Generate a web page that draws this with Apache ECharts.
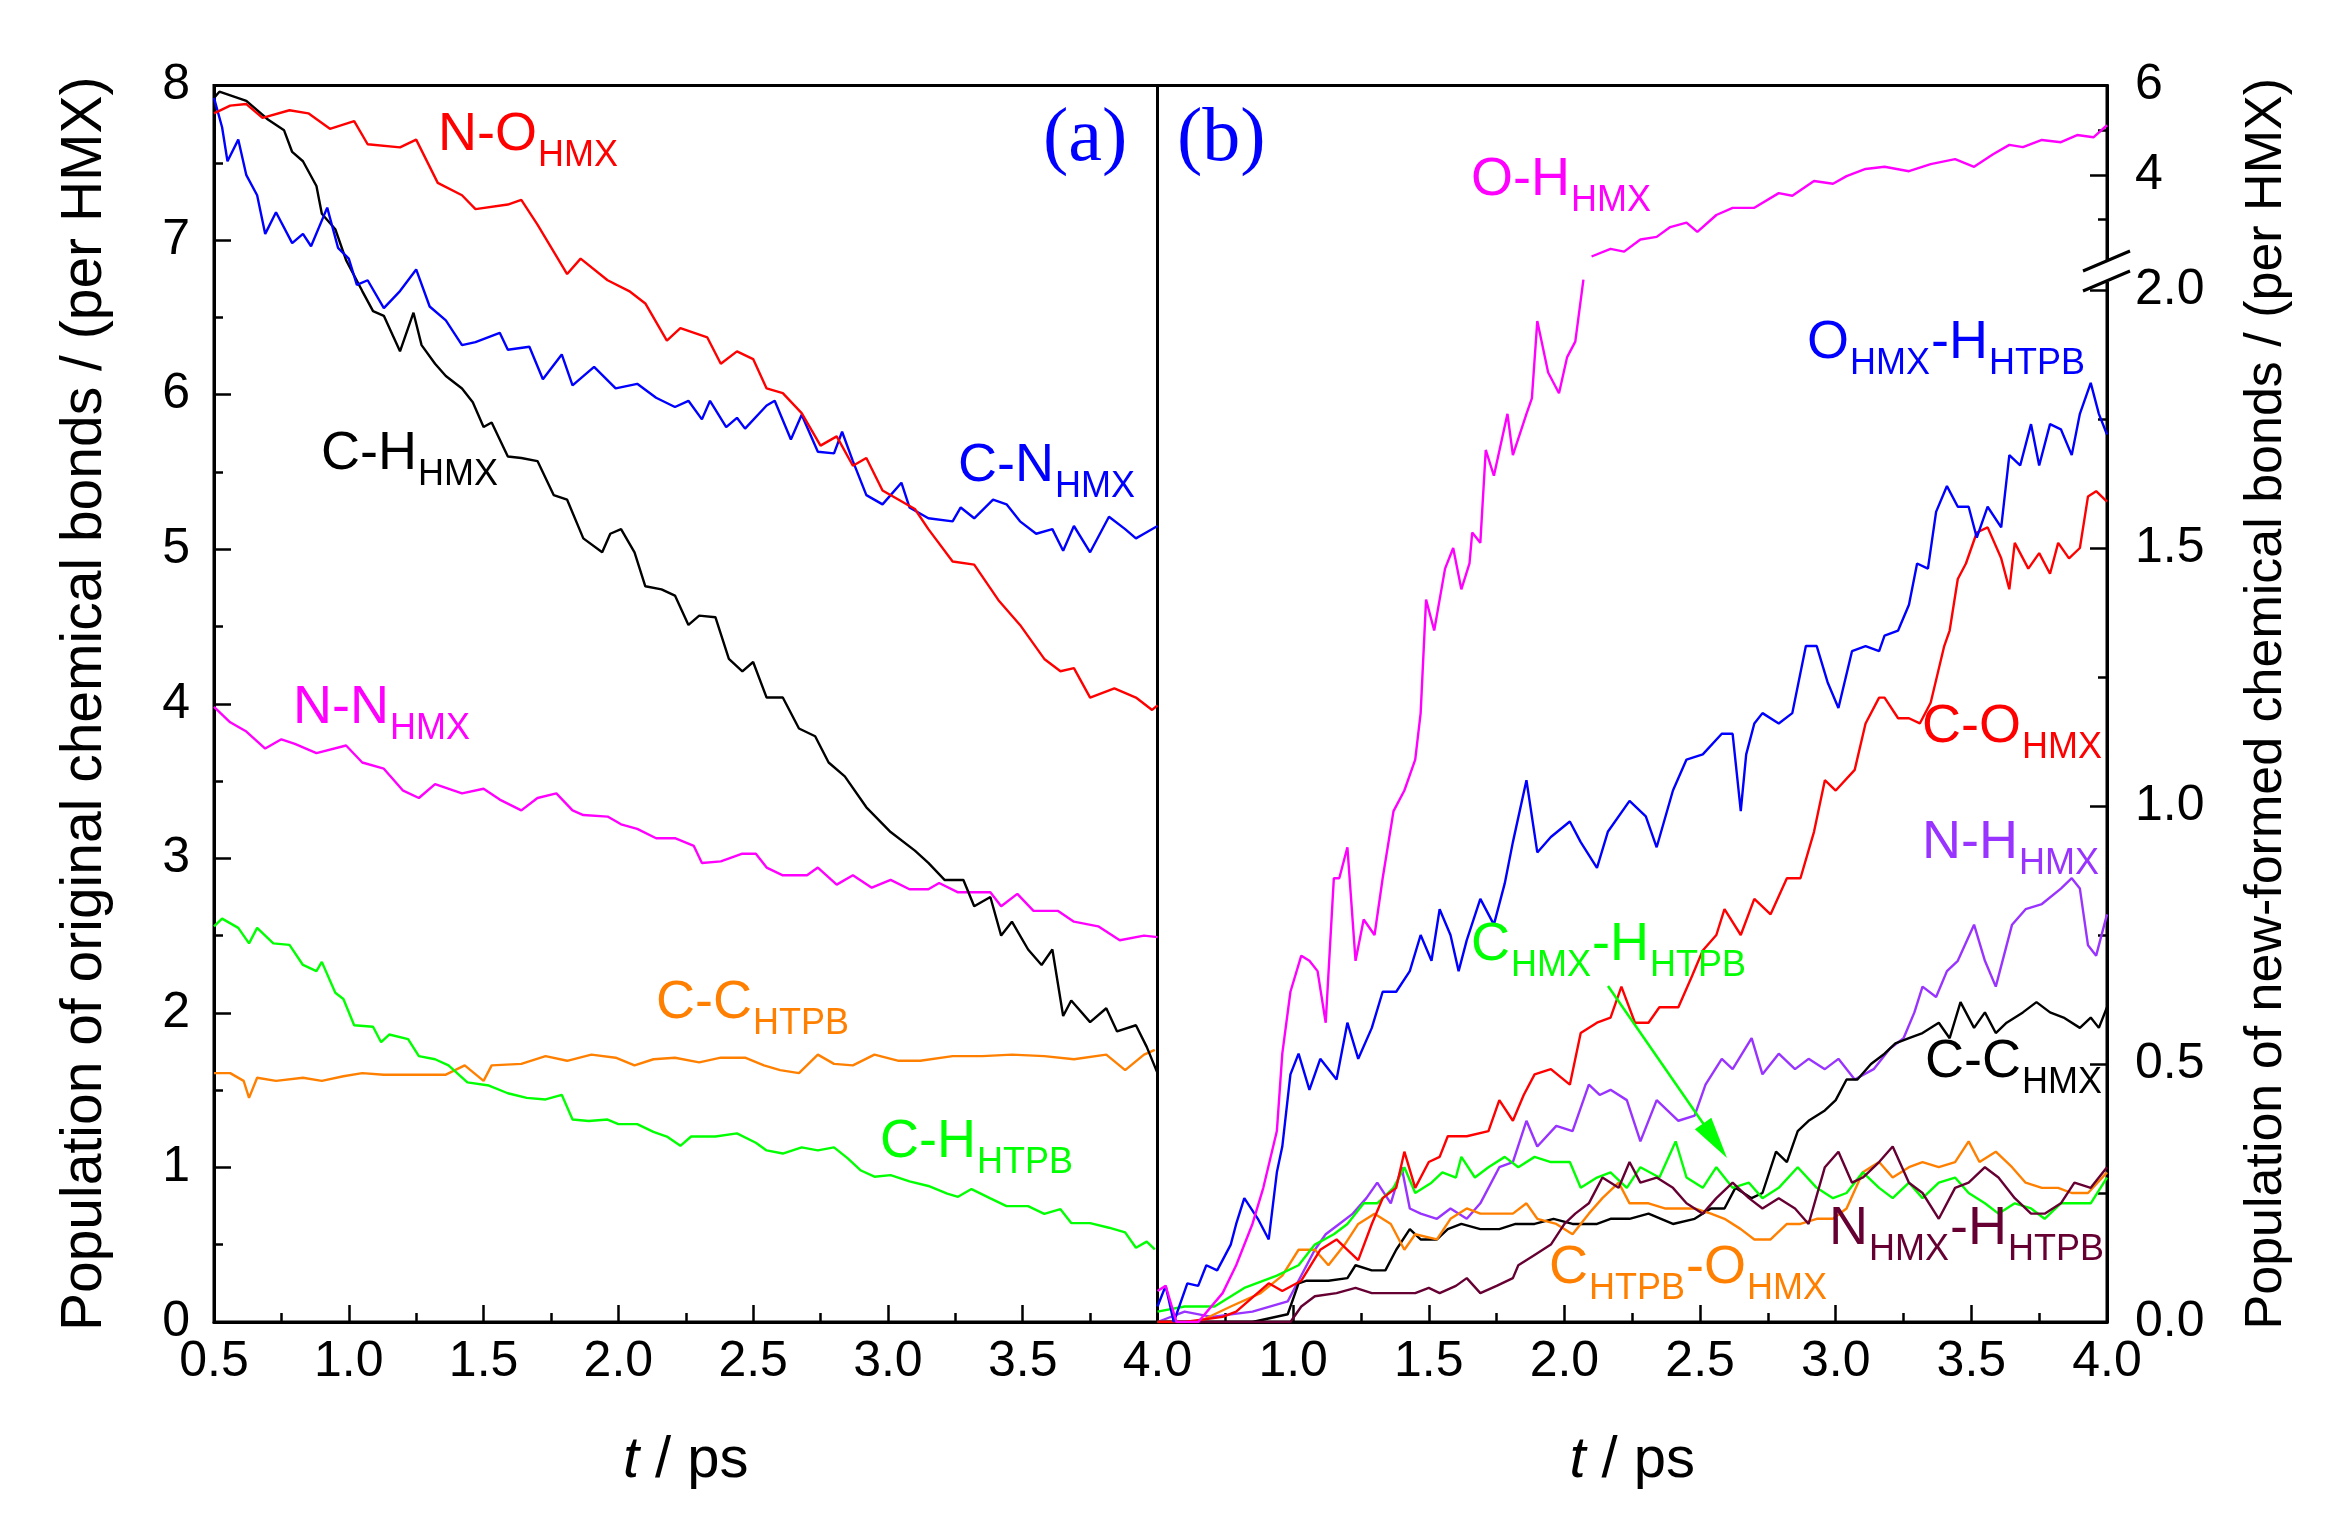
<!DOCTYPE html>
<html><head><meta charset="utf-8">
<script src="https://cdn.jsdelivr.net/npm/echarts@6/dist/echarts.min.js"></script>
<style>html,body{margin:0;padding:0;background:#fff}#c{width:2348px;height:1522px}</style>
</head><body><div id="c"></div>
<script>
// ---------- Panel (a): original bonds ----------
const NO_t = [0.5,0.56,0.62,0.68,0.78,0.85,0.93,1.02,1.07,1.19,1.25,1.33,1.42,1.47,1.59,1.64,1.70,1.81,1.86,1.96,2.04,2.10,2.18,2.23,2.33,2.38,2.44,2.50,2.55,2.61,2.68,2.75,2.81,2.87,2.92,2.98,3.04,3.10,3.15,3.24,3.32,3.41,3.49,3.58,3.64,3.69,3.75,3.84,3.92,3.98,4.0];
const NO_v = [7.82,7.87,7.88,7.79,7.84,7.82,7.72,7.77,7.62,7.60,7.65,7.37,7.29,7.20,7.23,7.26,7.10,6.78,6.88,6.74,6.67,6.59,6.35,6.43,6.37,6.20,6.28,6.23,6.04,6.01,5.88,5.67,5.73,5.54,5.59,5.38,5.32,5.26,5.13,4.92,4.90,4.67,4.51,4.29,4.21,4.23,4.04,4.10,4.04,3.96,3.99];
const CN_t = [0.5,0.53,0.55,0.59,0.62,0.66,0.69,0.73,0.79,0.83,0.86,0.92,0.96,1.00,1.03,1.07,1.13,1.19,1.25,1.30,1.36,1.42,1.47,1.56,1.59,1.67,1.72,1.79,1.83,1.91,1.99,2.07,2.14,2.21,2.26,2.31,2.34,2.40,2.44,2.47,2.55,2.58,2.64,2.68,2.74,2.80,2.83,2.87,2.92,2.98,3.05,3.08,3.15,3.24,3.27,3.32,3.39,3.44,3.49,3.55,3.61,3.65,3.69,3.75,3.82,3.88,3.92,3.95,4.0];
const CN_v = [7.92,7.73,7.51,7.65,7.42,7.29,7.04,7.18,6.98,7.04,6.96,7.21,6.95,6.88,6.71,6.74,6.56,6.67,6.81,6.57,6.48,6.32,6.34,6.40,6.29,6.31,6.10,6.26,6.06,6.18,6.04,6.07,5.98,5.92,5.96,5.84,5.96,5.79,5.85,5.78,5.93,5.96,5.71,5.87,5.63,5.62,5.76,5.57,5.35,5.29,5.43,5.27,5.20,5.18,5.27,5.20,5.32,5.29,5.18,5.10,5.13,4.99,5.15,4.98,5.21,5.13,5.07,5.10,5.15];
const CHhmx_t = [0.5,0.52,0.62,0.70,0.76,0.79,0.83,0.88,0.90,0.95,0.99,1.05,1.09,1.13,1.19,1.24,1.27,1.32,1.36,1.42,1.46,1.50,1.53,1.59,1.64,1.70,1.76,1.81,1.87,1.94,1.97,2.01,2.06,2.10,2.16,2.21,2.26,2.30,2.36,2.41,2.46,2.50,2.55,2.61,2.67,2.73,2.78,2.84,2.92,3.01,3.10,3.15,3.21,3.28,3.32,3.38,3.42,3.46,3.52,3.57,3.61,3.65,3.68,3.75,3.81,3.85,3.92,3.96,4.0];
const CHhmx_v = [7.92,7.96,7.90,7.78,7.71,7.57,7.51,7.35,7.17,7.07,6.87,6.67,6.54,6.51,6.28,6.53,6.32,6.20,6.12,6.04,5.95,5.79,5.82,5.60,5.59,5.57,5.35,5.32,5.07,4.98,5.10,5.13,4.98,4.76,4.74,4.70,4.51,4.57,4.56,4.29,4.21,4.27,4.04,4.04,3.84,3.79,3.62,3.53,3.33,3.17,3.05,2.97,2.86,2.86,2.69,2.75,2.50,2.59,2.41,2.31,2.41,1.98,2.08,1.94,2.03,1.88,1.92,1.78,1.61];
const NN_t = [0.5,0.56,0.62,0.69,0.75,0.80,0.88,0.99,1.05,1.13,1.20,1.26,1.32,1.42,1.50,1.56,1.64,1.70,1.77,1.83,1.87,1.96,2.01,2.07,2.14,2.21,2.28,2.31,2.38,2.46,2.51,2.55,2.61,2.70,2.74,2.81,2.87,2.94,3.01,3.08,3.15,3.19,3.26,3.38,3.42,3.48,3.54,3.63,3.69,3.78,3.86,3.95,4.0];
const NN_v = [3.98,3.88,3.82,3.71,3.77,3.74,3.68,3.73,3.62,3.58,3.44,3.39,3.48,3.42,3.45,3.38,3.31,3.39,3.42,3.31,3.28,3.27,3.22,3.19,3.13,3.13,3.08,2.97,2.98,3.03,3.03,2.94,2.89,2.89,2.94,2.83,2.89,2.81,2.86,2.80,2.80,2.84,2.78,2.78,2.69,2.77,2.66,2.66,2.59,2.56,2.47,2.50,2.49];
const CHhtpb_t = [0.5,0.53,0.59,0.63,0.66,0.72,0.78,0.83,0.88,0.90,0.95,0.98,1.02,1.09,1.12,1.15,1.22,1.26,1.32,1.37,1.44,1.52,1.59,1.66,1.73,1.79,1.83,1.89,1.96,2.00,2.07,2.13,2.18,2.23,2.27,2.36,2.44,2.51,2.55,2.61,2.68,2.74,2.80,2.85,2.90,2.95,3.01,3.08,3.15,3.22,3.26,3.31,3.38,3.44,3.52,3.58,3.64,3.68,3.75,3.82,3.88,3.92,3.96,3.99];
const CHhtpb_v = [2.56,2.61,2.55,2.45,2.55,2.45,2.44,2.31,2.27,2.33,2.13,2.09,1.92,1.91,1.81,1.86,1.83,1.72,1.70,1.66,1.55,1.53,1.48,1.45,1.44,1.47,1.31,1.30,1.31,1.28,1.28,1.23,1.20,1.14,1.20,1.20,1.22,1.16,1.11,1.09,1.13,1.11,1.13,1.06,0.98,0.94,0.95,0.91,0.88,0.83,0.81,0.86,0.80,0.75,0.75,0.70,0.73,0.64,0.64,0.61,0.58,0.48,0.52,0.47];
const CChtpb_t = [0.5,0.56,0.61,0.63,0.66,0.73,0.83,0.90,0.98,1.05,1.13,1.25,1.36,1.43,1.50,1.53,1.64,1.73,1.81,1.90,1.99,2.06,2.13,2.21,2.30,2.38,2.47,2.54,2.60,2.67,2.74,2.80,2.87,2.95,3.04,3.12,3.24,3.35,3.46,3.58,3.69,3.81,3.88,3.95,3.99];
const CChtpb_v = [1.61,1.61,1.56,1.45,1.58,1.56,1.58,1.56,1.59,1.61,1.60,1.60,1.60,1.66,1.56,1.66,1.67,1.72,1.69,1.73,1.71,1.66,1.70,1.71,1.68,1.71,1.71,1.66,1.63,1.61,1.73,1.67,1.66,1.73,1.69,1.69,1.72,1.72,1.73,1.72,1.70,1.73,1.63,1.73,1.76];

// ---------- Panel (b): new-formed bonds ----------
const OH_t = [0.5,0.53,0.57,0.65,0.74,0.79,0.85,0.89,0.94,0.96,0.99,1.03,1.06,1.09,1.12,1.15,1.17,1.20,1.23,1.26,1.30,1.33,1.37,1.41,1.45,1.47,1.49,1.52,1.56,1.59,1.62,1.65,1.66,1.69,1.71,1.74,1.79,1.81,1.86,1.88,1.90,1.94,1.98,2.01,2.04,2.07,2.10,2.17,2.22,2.28,2.34,2.39,2.45,2.49,2.56,2.62,2.70,2.79,2.84,2.92,2.99,3.04,3.11,3.18,3.27,3.35,3.44,3.51,3.58,3.64,3.69,3.76,3.83,3.89,3.95,4.0];
const OH_v = [0.06,0.07,0.0,0.0,0.056,0.11,0.19,0.26,0.37,0.52,0.64,0.71,0.70,0.68,0.58,0.86,0.86,0.92,0.70,0.78,0.75,0.86,0.99,1.03,1.09,1.18,1.40,1.34,1.46,1.50,1.42,1.47,1.53,1.51,1.69,1.64,1.76,1.68,1.76,1.79,1.94,1.84,1.80,1.87,1.90,2.02,2.17,2.34,2.28,2.55,2.61,2.83,2.93,2.72,3.10,3.26,3.26,3.59,3.53,3.86,3.80,3.97,4.13,4.18,4.08,4.24,4.35,4.18,4.46,4.67,4.62,4.78,4.73,4.89,4.84,5.11];
const OHH_t = [0.5,0.53,0.56,0.61,0.65,0.68,0.72,0.77,0.79,0.82,0.87,0.91,0.94,0.96,0.99,1.02,1.06,1.10,1.16,1.20,1.24,1.29,1.33,1.38,1.43,1.47,1.51,1.54,1.58,1.61,1.64,1.69,1.74,1.78,1.81,1.86,1.90,1.95,2.02,2.06,2.12,2.16,2.24,2.30,2.34,2.40,2.45,2.51,2.58,2.62,2.65,2.67,2.70,2.73,2.79,2.84,2.89,2.93,2.97,3.01,3.06,3.11,3.16,3.18,3.23,3.27,3.30,3.34,3.37,3.41,3.45,3.49,3.52,3.56,3.61,3.64,3.68,3.72,3.75,3.79,3.83,3.87,3.90,3.94,3.97,4.0];
const OHH_v = [0.03,0.07,0.0,0.075,0.07,0.11,0.10,0.15,0.19,0.24,0.20,0.16,0.29,0.34,0.48,0.52,0.45,0.51,0.47,0.58,0.51,0.57,0.64,0.64,0.68,0.75,0.70,0.80,0.75,0.68,0.74,0.82,0.77,0.85,0.93,1.05,0.91,0.94,0.97,0.93,0.88,0.95,1.01,0.98,0.92,1.03,1.09,1.10,1.14,1.14,0.99,1.10,1.16,1.18,1.16,1.18,1.31,1.31,1.24,1.19,1.30,1.31,1.30,1.33,1.34,1.39,1.47,1.46,1.57,1.62,1.58,1.58,1.52,1.58,1.54,1.68,1.66,1.74,1.66,1.74,1.73,1.68,1.76,1.82,1.76,1.72];
const CO_t = [0.5,0.6,0.74,0.79,0.91,0.96,1.03,1.10,1.16,1.20,1.24,1.29,1.33,1.38,1.41,1.45,1.50,1.54,1.57,1.64,1.72,1.76,1.81,1.85,1.89,1.95,2.02,2.06,2.12,2.17,2.21,2.26,2.31,2.35,2.42,2.47,2.51,2.56,2.59,2.65,2.70,2.76,2.82,2.87,2.92,2.96,3.00,3.07,3.11,3.16,3.18,3.23,3.27,3.31,3.35,3.40,3.42,3.45,3.48,3.52,3.56,3.61,3.64,3.66,3.71,3.75,3.79,3.82,3.86,3.90,3.93,3.96,4.0];
const CO_v = [0.0,0.0,0.01,0.02,0.075,0.06,0.08,0.14,0.16,0.14,0.12,0.19,0.24,0.26,0.33,0.26,0.31,0.32,0.36,0.36,0.37,0.43,0.39,0.44,0.48,0.49,0.46,0.56,0.58,0.59,0.65,0.58,0.58,0.61,0.61,0.67,0.72,0.75,0.80,0.75,0.82,0.79,0.86,0.86,0.95,1.05,1.03,1.07,1.16,1.21,1.21,1.17,1.17,1.16,1.20,1.31,1.34,1.44,1.47,1.53,1.54,1.48,1.42,1.51,1.46,1.49,1.45,1.51,1.48,1.50,1.60,1.61,1.59];
const NH_t = [0.5,0.6,0.7,0.85,0.98,1.03,1.08,1.12,1.17,1.22,1.27,1.31,1.36,1.40,1.43,1.47,1.53,1.58,1.64,1.69,1.76,1.81,1.86,1.90,1.97,2.03,2.09,2.13,2.17,2.23,2.28,2.34,2.42,2.48,2.52,2.58,2.62,2.69,2.73,2.79,2.85,2.90,2.96,3.01,3.07,3.14,3.20,3.25,3.29,3.32,3.37,3.41,3.45,3.51,3.55,3.59,3.65,3.70,3.76,3.83,3.87,3.90,3.93,3.96,4.0];
const NH_v = [0.0,0.02,0.01,0.02,0.04,0.09,0.14,0.17,0.19,0.21,0.24,0.27,0.23,0.30,0.22,0.21,0.20,0.22,0.20,0.23,0.30,0.31,0.39,0.34,0.38,0.37,0.46,0.44,0.45,0.43,0.35,0.43,0.39,0.40,0.46,0.51,0.49,0.55,0.48,0.52,0.49,0.51,0.49,0.51,0.47,0.49,0.53,0.55,0.60,0.65,0.63,0.68,0.70,0.77,0.70,0.65,0.77,0.80,0.81,0.84,0.86,0.84,0.73,0.71,0.79];
const CC_t = [0.5,0.7,0.85,0.98,1.02,1.05,1.13,1.20,1.23,1.29,1.34,1.38,1.43,1.47,1.53,1.57,1.62,1.69,1.76,1.82,1.89,1.96,2.03,2.12,2.17,2.24,2.31,2.40,2.48,2.54,2.59,2.63,2.69,2.73,2.78,2.82,2.86,2.90,2.96,3.00,3.04,3.08,3.13,3.18,3.22,3.27,3.32,3.38,3.42,3.46,3.51,3.55,3.59,3.63,3.69,3.74,3.79,3.84,3.90,3.94,3.97,4.0];
const CC_v = [0.0,0.0,0.0,0.015,0.075,0.08,0.08,0.085,0.11,0.10,0.10,0.14,0.18,0.16,0.16,0.18,0.19,0.18,0.18,0.19,0.19,0.20,0.19,0.19,0.20,0.20,0.21,0.19,0.20,0.22,0.22,0.26,0.24,0.25,0.33,0.31,0.37,0.39,0.41,0.43,0.47,0.47,0.50,0.52,0.54,0.55,0.56,0.58,0.55,0.62,0.57,0.60,0.56,0.58,0.60,0.62,0.60,0.59,0.57,0.59,0.57,0.61];
const CH2_t = [0.5,0.6,0.71,0.82,0.94,1.02,1.08,1.15,1.20,1.26,1.31,1.37,1.41,1.45,1.51,1.55,1.60,1.62,1.67,1.72,1.78,1.83,1.89,1.95,2.02,2.06,2.12,2.17,2.23,2.28,2.35,2.41,2.45,2.51,2.56,2.62,2.68,2.73,2.79,2.86,2.93,2.99,3.04,3.10,3.16,3.21,3.27,3.32,3.38,3.44,3.49,3.55,3.60,3.66,3.72,3.77,3.83,3.88,3.94,4.0];
const CH2_v = [0.02,0.03,0.03,0.066,0.09,0.11,0.15,0.17,0.19,0.23,0.23,0.26,0.30,0.25,0.27,0.29,0.28,0.32,0.28,0.30,0.32,0.30,0.32,0.31,0.31,0.26,0.28,0.29,0.26,0.30,0.28,0.35,0.28,0.26,0.30,0.26,0.27,0.24,0.26,0.30,0.26,0.24,0.25,0.29,0.26,0.24,0.27,0.24,0.27,0.28,0.25,0.23,0.21,0.23,0.22,0.20,0.23,0.23,0.23,0.28];
const NHH_t = [0.5,0.8,0.99,1.03,1.08,1.16,1.23,1.29,1.38,1.45,1.50,1.54,1.60,1.64,1.69,1.75,1.81,1.83,1.89,1.95,2.00,2.04,2.09,2.14,2.20,2.24,2.28,2.34,2.40,2.45,2.51,2.56,2.62,2.68,2.73,2.79,2.85,2.90,2.96,3.01,3.06,3.10,3.16,3.21,3.27,3.32,3.38,3.44,3.49,3.55,3.60,3.66,3.72,3.77,3.83,3.88,3.94,4.0];
const NHH_v = [0.0,0.0,0.0,0.03,0.05,0.056,0.066,0.056,0.056,0.056,0.066,0.056,0.07,0.085,0.056,0.07,0.085,0.11,0.13,0.15,0.19,0.21,0.23,0.28,0.26,0.31,0.27,0.28,0.26,0.23,0.21,0.24,0.27,0.24,0.22,0.24,0.22,0.19,0.30,0.33,0.27,0.28,0.31,0.34,0.27,0.25,0.20,0.26,0.27,0.30,0.28,0.24,0.21,0.21,0.23,0.27,0.26,0.30];
const CHO_t = [0.5,0.65,0.77,0.88,0.96,1.02,1.08,1.13,1.19,1.24,1.30,1.36,1.41,1.45,1.53,1.58,1.64,1.69,1.75,1.81,1.86,1.90,1.97,2.03,2.09,2.14,2.20,2.24,2.31,2.37,2.42,2.48,2.54,2.59,2.65,2.70,2.76,2.82,2.87,2.93,2.99,3.04,3.10,3.16,3.21,3.27,3.32,3.38,3.44,3.49,3.53,3.59,3.65,3.70,3.76,3.82,3.87,3.93,4.0];
const CHO_v = [0.0,0.0,0.03,0.056,0.09,0.14,0.14,0.11,0.15,0.19,0.21,0.19,0.14,0.17,0.16,0.20,0.22,0.21,0.21,0.21,0.23,0.20,0.19,0.17,0.21,0.24,0.27,0.23,0.23,0.22,0.22,0.22,0.21,0.20,0.18,0.16,0.16,0.19,0.19,0.20,0.20,0.22,0.29,0.31,0.28,0.30,0.31,0.30,0.31,0.35,0.31,0.33,0.30,0.27,0.26,0.26,0.25,0.25,0.29];

// ---------- Axis ticks ----------
const X_TICKS_MIN = 0.5, X_TICKS_MAX = 4.0, X_STEP = 0.5;
const LEFT_Y_MIN = 0, LEFT_Y_MAX = 8;
const RIGHT_TICKS = [0, 0.5, 1.0, 1.5, 2.0, 4, 6];
const RIGHT_TICK_TEXT = ['0.0', '0.5', '1.0', '1.5', '2.0', '4', '6'];
const RIGHT_MINOR = [0.25, 0.75, 1.25, 1.75, 3, 5];

// ---------- Layout ----------
const FONT = '"Liberation Sans", Arial, sans-serif';
const GT = 85.5, GH = 1236.5;
const G0L = 214, G0W = 943.5, G1L = 1157.5, G1W = 949.5;
// broken right axis: display units = px from bottom of grid
const LOW_PER = 516, UP_PER = 44.65, BREAK_AT = 2.1;
const UP_BASE = GH - 4 * UP_PER;   // position of value 2 on the upper scale
function disp(v) { return v <= BREAK_AT ? v * LOW_PER : UP_BASE + (v - 2) * UP_PER; }

function pairs(ts, vs, f) {
  const n = Math.min(ts.length, vs.length), out = [];
  for (let i = 0; i < n; i++) {
    if (f && i > 0 && (vs[i - 1] <= BREAK_AT) !== (vs[i] <= BREAK_AT)) out.push([(ts[i - 1] + ts[i]) / 2, '-']);
    out.push([ts[i], f ? f(vs[i]) : vs[i]]);
  }
  return out;
}
function lineSeries(name, ts, vs, color, panel) {
  return {
    name, type: 'line', xAxisIndex: panel, yAxisIndex: panel,
    data: pairs(ts, vs, panel === 1 ? disp : null),
    showSymbol: false, symbol: 'none', smooth: false, connectNulls: false,
    lineStyle: { color, width: 2.4 }, itemStyle: { color },
    z: 3, silent: true
  };
}

const tickStyle = { color: '#000', width: 2.5 };
function xAxisCfg(grid, hideMin) {
  return {
    type: 'value', gridIndex: grid, min: X_TICKS_MIN, max: X_TICKS_MAX, interval: X_STEP,
    axisLine: { show: true, onZero: false, lineStyle: { color: '#000', width: 3 } },
    axisTick: { show: true, inside: true, length: 17, lineStyle: tickStyle },
    minorTick: { show: true, splitNumber: 2, length: 9, lineStyle: tickStyle },
    splitLine: { show: false }, minorSplitLine: { show: false },
    axisLabel: {
      fontSize: 50, fontFamily: FONT, color: '#000', margin: 15,
      formatter: v => (hideMin && Math.abs(v - X_TICKS_MIN) < 1e-6) ? '' : v.toFixed(1)
    },
    name: '{i|t} / ps', nameLocation: 'middle', nameGap: 110,
    nameTextStyle: { fontSize: 58, fontFamily: FONT, color: '#000',
      rich: { i: { fontStyle: 'italic', fontSize: 58, fontFamily: FONT, color: '#000' } } }
  };
}
function nearestLabel(v) {
  let best = 0, bd = 1e9;
  RIGHT_TICKS.forEach((t, i) => { const d = Math.abs(disp(t) - v); if (d < bd) { bd = d; best = i; } });
  return RIGHT_TICK_TEXT[best];
}

const option = {
  backgroundColor: '#fff',
  animation: false,
  grid: [
    { left: G0L, top: GT, width: G0W, height: GH, show: true, borderColor: '#000', borderWidth: 3, backgroundColor: 'transparent' },
    { left: G1L, top: GT, width: G1W, height: GH, show: true, borderColor: '#000', borderWidth: 3, backgroundColor: 'transparent' }
  ],
  xAxis: [xAxisCfg(0, false), xAxisCfg(1, true)],
  yAxis: [
    {
      type: 'value', gridIndex: 0, min: LEFT_Y_MIN, max: LEFT_Y_MAX, interval: 1,
      axisLine: { show: true, lineStyle: { color: '#000', width: 3 } },
      axisTick: { show: true, inside: true, length: 17, lineStyle: tickStyle },
      minorTick: { show: true, splitNumber: 2, length: 9, lineStyle: tickStyle },
      splitLine: { show: false }, minorSplitLine: { show: false },
      axisLabel: { fontSize: 50, fontFamily: FONT, color: '#000', margin: 24 },
      name: 'Population of original chemical bonds / (per HMX)',
      nameLocation: 'middle', nameGap: 100, nameRotate: 90,
      nameTextStyle: { fontSize: 57, fontFamily: FONT, color: '#000' }
    },
    {
      type: 'value', gridIndex: 1, position: 'right', min: 0, max: GH,
      axisLine: { show: true, lineStyle: { color: '#000', width: 3 } },
      axisTick: { show: true, inside: true, length: 17, lineStyle: tickStyle,
        customValues: RIGHT_TICKS.map(disp) },
      axisLabel: { fontSize: 50, fontFamily: FONT, color: '#000', margin: 28,
        customValues: RIGHT_TICKS.map(disp), formatter: v => nearestLabel(v) },
      splitLine: { show: false },
      name: 'Population of new-formed chemical bonds / (per HMX)',
      nameLocation: 'middle', nameGap: 134, nameRotate: 90,
      nameTextStyle: { fontSize: 52, fontFamily: FONT, color: '#000' }
    },
    {
      type: 'value', gridIndex: 1, position: 'right', min: 0, max: GH,
      axisLine: { show: false },
      axisTick: { show: true, inside: true, length: 9, lineStyle: tickStyle,
        customValues: RIGHT_MINOR.map(disp) },
      axisLabel: { show: false, customValues: RIGHT_MINOR.map(disp) },
      splitLine: { show: false }
    }
  ],
  series: [
    lineSeries('C-C HTPB', CChtpb_t, CChtpb_v, '#FF8000', 0),
    lineSeries('C-H HTPB', CHhtpb_t, CHhtpb_v, '#00FF00', 0),
    lineSeries('N-N HMX', NN_t, NN_v, '#FF00FF', 0),
    lineSeries('C-H HMX', CHhmx_t, CHhmx_v, '#000000', 0),
    lineSeries('C-N HMX', CN_t, CN_v, '#0000FF', 0),
    lineSeries('N-O HMX', NO_t, NO_v, '#FF0000', 0),
    lineSeries('N-H HMX', NH_t, NH_v, '#9933FF', 1),
    lineSeries('C-C HMX', CC_t, CC_v, '#000000', 1),
    lineSeries('C_HTPB-O_HMX', CHO_t, CHO_v, '#FF8000', 1),
    lineSeries('C_HMX-H_HTPB', CH2_t, CH2_v, '#00FF00', 1),
    lineSeries('N_HMX-H_HTPB', NHH_t, NHH_v, '#660033', 1),
    lineSeries('C-O HMX', CO_t, CO_v, '#FF0000', 1),
    lineSeries('O_HMX-H_HTPB', OHH_t, OHH_v, '#0000FF', 1),
    lineSeries('O-H HMX', OH_t, OH_v, '#FF00FF', 1)
  ]
};

// ---------- annotations (series labels with subscripts) ----------
const LABELS = [
  { x: 438, y: 154, c: '#FF0000', p: [['N-O', 0], ['HMX', 1]] },
  { x: 958, y: 485, c: '#0000FF', p: [['C-N', 0], ['HMX', 1]] },
  { x: 321, y: 473, c: '#000000', p: [['C-H', 0], ['HMX', 1]] },
  { x: 293, y: 727, c: '#FF00FF', p: [['N-N', 0], ['HMX', 1]] },
  { x: 656, y: 1022, c: '#FF8000', p: [['C-C', 0], ['HTPB', 1]] },
  { x: 880, y: 1161, c: '#00FF00', p: [['C-H', 0], ['HTPB', 1]] },
  { x: 1471, y: 199, c: '#FF00FF', p: [['O-H', 0], ['HMX', 1]] },
  { x: 1807, y: 362, c: '#0000FF', p: [['O', 0], ['HMX', 1], ['-H', 0], ['HTPB', 1]] },
  { x: 1922, y: 746, c: '#FF0000', p: [['C-O', 0], ['HMX', 1]] },
  { x: 1922, y: 862, c: '#9933FF', p: [['N-H', 0], ['HMX', 1]] },
  { x: 1471, y: 964, c: '#00FF00', p: [['C', 0], ['HMX', 1], ['-H', 0], ['HTPB', 1]] },
  { x: 1925, y: 1081, c: '#000000', p: [['C-C', 0], ['HMX', 1]] },
  { x: 1829, y: 1248, c: '#660033', p: [['N', 0], ['HMX', 1], ['-H', 0], ['HTPB', 1]] },
  { x: 1549, y: 1287, c: '#FF8000', p: [['C', 0], ['HTPB', 1], ['-O', 0], ['HMX', 1]] }
];
const MAIN_FS = 54, SUB_FS = 36, SUB_DROP = 15, MID_K = 0.35;
const mctx = document.createElement('canvas').getContext('2d');
function textW(t, fs) { mctx.font = fs + 'px ' + FONT; return mctx.measureText(t).width; }
const graphics = [];
LABELS.forEach(l => {
  let cx = l.x;
  l.p.forEach(([t, sub]) => {
    const fs = sub ? SUB_FS : MAIN_FS;
    const base = l.y + (sub ? SUB_DROP : 0);
    graphics.push({ type: 'text', x: cx, y: base - MID_K * fs, z: 10, silent: true,
      style: { text: t, fill: l.c, font: fs + 'px ' + FONT, align: 'left', verticalAlign: 'middle' } });
    cx += textW(t, fs) + 1;
  });
});
// panel tags
graphics.push({ type: 'text', x: 1043, y: 140, z: 10, style: { text: '(a)', fill: '#0000FF',
  font: '76px "Liberation Serif", "Times New Roman", serif', align: 'left', verticalAlign: 'middle' } });
graphics.push({ type: 'text', x: 1177, y: 140, z: 10, style: { text: '(b)', fill: '#0000FF',
  font: '76px "Liberation Serif", "Times New Roman", serif', align: 'left', verticalAlign: 'middle' } });
// axis break marks on the right axis
graphics.push({ type: 'rect', z: 20, shape: { x: 2097, y: 260, width: 16, height: 22 }, style: { fill: '#fff' } });
graphics.push({ type: 'line', z: 21, shape: { x1: 2083, y1: 271, x2: 2130, y2: 251 }, style: { stroke: '#000', lineWidth: 3 } });
graphics.push({ type: 'line', z: 21, shape: { x1: 2083, y1: 291, x2: 2130, y2: 271 }, style: { stroke: '#000', lineWidth: 3 } });
// arrow from the C_HMX-H_HTPB label to its curve
(function () {
  const s = [1608, 986], e = [1727, 1158];
  const dx = e[0] - s[0], dy = e[1] - s[1], L = Math.hypot(dx, dy), ux = dx / L, uy = dy / L;
  const hl = 42, hw = 10, bx = e[0] - ux * hl, by = e[1] - uy * hl;
  graphics.push({ type: 'line', z: 9, shape: { x1: s[0], y1: s[1], x2: bx + ux * 5, y2: by + uy * 5 },
    style: { stroke: '#00FF00', lineWidth: 2.5 } });
  graphics.push({ type: 'polygon', z: 9, shape: { points: [[e[0], e[1]], [bx - uy * hw, by + ux * hw], [bx + uy * hw, by - ux * hw]] },
    style: { fill: '#00FF00' } });
})();
option.graphic = graphics;

const chart = echarts.init(document.getElementById('c'), null, { renderer: 'canvas' });
chart.setOption(option);
</script></body></html>
